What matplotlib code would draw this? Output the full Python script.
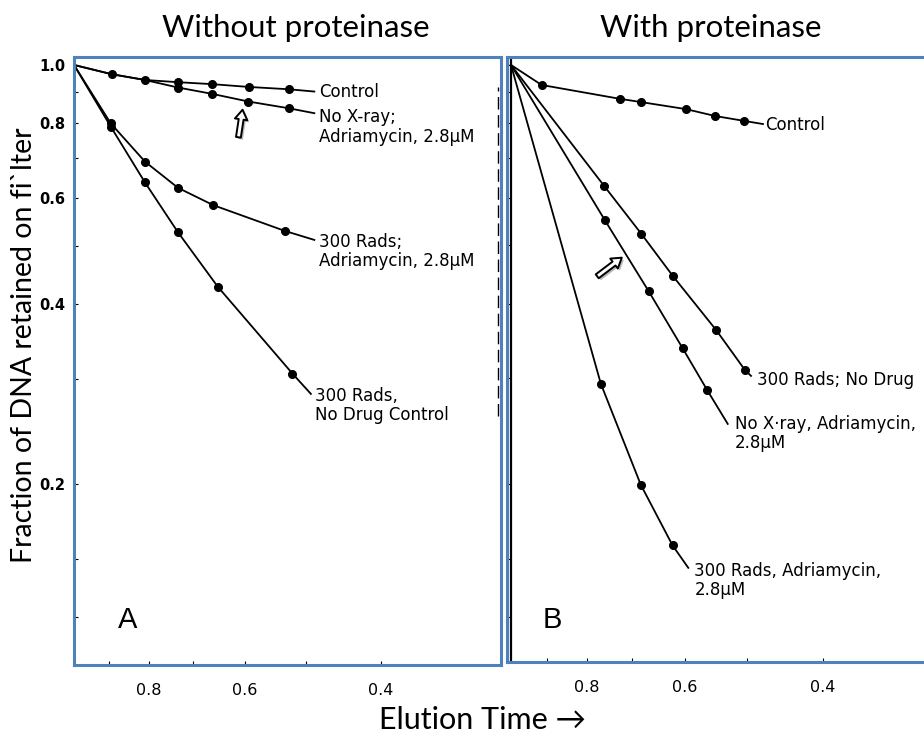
import numpy as np
from matplotlib import pyplot as plt
from matplotlib import patheffects as pe
from matplotlib.ticker import FixedLocator, NullFormatter

# ---------------------------------------------
# Data (x = fraction of internal standard retained)
# ---------------------------------------------
# Panel A - without proteinase
a_control_x = [1.0, 0.893, 0.809, 0.733, 0.662, 0.593, 0.527, 0.488]
a_control_y = [1.0, 0.965, 0.944, 0.936, 0.929, 0.919, 0.911, 0.903]

a_noxray_x = [1.0, 0.893, 0.809, 0.733, 0.662, 0.594, 0.527, 0.488]
a_noxray_y = [1.0, 0.965, 0.944, 0.917, 0.895, 0.869, 0.847, 0.831]

a_rads_adr_x = [1.0, 0.896, 0.809, 0.733, 0.660, 0.533, 0.488]
a_rads_adr_y = [1.0, 0.799, 0.690, 0.624, 0.584, 0.529, 0.511]

a_rads_x = [1.0, 0.896, 0.809, 0.733, 0.651, 0.521, 0.493]
a_rads_y = [1.0, 0.789, 0.637, 0.526, 0.427, 0.306, 0.283]

# Panel B - with proteinase
b_control_x = [1.0, 0.914, 0.726, 0.682, 0.598, 0.549, 0.505, 0.477]
b_control_y = [1.0, 0.926, 0.878, 0.867, 0.844, 0.822, 0.807, 0.797]

b_rads_x = [1.0, 0.761, 0.682, 0.621, 0.547, 0.503, 0.494]
b_rads_y = [1.0, 0.629, 0.523, 0.444, 0.361, 0.310, 0.303]

b_noxray_x = [1.0, 0.759, 0.667, 0.604, 0.562, 0.529]
b_noxray_y = [1.0, 0.551, 0.419, 0.337, 0.287, 0.252]

b_rads_adr_x = [1.0, 0.768, 0.683, 0.622, 0.594]
b_rads_adr_y = [1.0, 0.294, 0.1995, 0.158, 0.145]

x_ticks = [0.8, 0.6, 0.4]
x_ticklabels = ["0.8", "0.6", "0.4"]
y_ticks = [1.0, 0.8, 0.6, 0.4, 0.2]
y_ticklabels = ["1.0", "0.8", "0.6", "0.4", "0.2"]

W, H = 924, 736
BLUE = "#4F81BD"
SCAN_FONT = "DejaVu Sans"
SLIDE_FONT = "Lato"
PT = 0.72  # points per pixel at dpi 100


def fx(px):
    return px / W


def fy(py):
    return 1 - py / H


fig = plt.figure(figsize=(W / 100, H / 100), dpi=100)

ax_a = fig.add_axes([fx(74), fy(665), fx(501) - fx(74), fy(57) - fy(665)])
ax_b = fig.add_axes([fx(507), fy(662), fx(930) - fx(507), fy(57) - fy(662)])


# ---------------------------------------------
# Axes styling
# ---------------------------------------------
def style_axes(ax, xlim, ylim, show_ylabels):
    ax.set_xscale("log")
    ax.set_yscale("log")
    ax.set_xlim(*xlim)
    ax.set_ylim(*ylim)

    ax.xaxis.set_major_locator(FixedLocator(x_ticks))
    ax.xaxis.set_minor_locator(FixedLocator([0.9, 0.7, 0.5]))
    ax.set_xticklabels(x_ticklabels, fontsize=11.5, family=SCAN_FONT)
    ax.xaxis.set_minor_formatter(NullFormatter())

    ax.yaxis.set_major_locator(FixedLocator(y_ticks))
    ax.yaxis.set_minor_locator(FixedLocator([0.9, 0.7, 0.5, 0.3, 0.15, 0.12]))
    ax.yaxis.set_minor_formatter(NullFormatter())
    if show_ylabels:
        ax.set_yticklabels(y_ticklabels, fontsize=10.5, family=SCAN_FONT,
                           fontweight="bold")
    else:
        ax.set_yticklabels([])

    ax.tick_params(axis="both", which="both", direction="in", length=3,
                   width=0.8, color="black")
    ax.tick_params(axis="x", which="major", pad=13)
    ax.tick_params(axis="y", which="major", pad=6)

    for side in ax.spines.values():
        side.set_color(BLUE)
        side.set_linewidth(2.2)
        side.set_zorder(5)


style_axes(ax_a, (1.0, 0.2795), (0.1, 1.031), True)
style_axes(ax_b, (1.0118, 0.292), (0.101, 1.031), False)

# scanned frame lines of the original figure
ax_b.axvline(1.0, color="black", lw=1.6, zorder=4)
ax_a.plot([0.2821, 0.2821], [0.26, 0.92], color="black", lw=1.0,
          ls=(0, (9, 4)), zorder=4)

line_kw = dict(color="black", lw=1.3, marker="o", ms=5.5,
               markerfacecolor="black", markeredgecolor="black")

# ---------------------------------------------
# Panel A curves
# ---------------------------------------------
ax_a.plot(a_control_x, a_control_y, markevery=slice(1, -1), **line_kw)
ax_a.plot(a_noxray_x, a_noxray_y, markevery=slice(3, -1), **line_kw)
ax_a.plot(a_rads_adr_x, a_rads_adr_y, markevery=slice(1, -1), **line_kw)
ax_a.plot(a_rads_x, a_rads_y, markevery=slice(1, -1), **line_kw)

# ---------------------------------------------
# Panel B curves
# ---------------------------------------------
ax_b.plot(b_control_x, b_control_y, markevery=slice(1, -1), **line_kw)
ax_b.plot(b_rads_x, b_rads_y, markevery=slice(1, -1), **line_kw)
ax_b.plot(b_noxray_x, b_noxray_y, markevery=slice(1, -1), **line_kw)
ax_b.plot(b_rads_adr_x, b_rads_adr_y, markevery=slice(1, -1), **line_kw)


# ---------------------------------------------
# Curve labels (placed at the end of each curve, offsets in pixels)
# ---------------------------------------------
def label(ax, x, y, text, dx, dy):
    ax.annotate(text, xy=(x, y), xytext=(dx * PT, dy * PT),
                textcoords="offset points", ha="left", va="top",
                fontsize=12, family=SCAN_FONT, linespacing=1.1)


label(ax_a, a_control_x[-1], a_control_y[-1], "Control", 5, 9)
label(ax_a, a_noxray_x[-1], a_noxray_y[-1],
      "No X-ray;\nAdriamycin, 2.8\u00b5M", 5, 5)
label(ax_a, a_rads_adr_x[-1], a_rads_adr_y[-1],
      "300 Rads;\nAdriamycin, 2.8\u00b5M", 5, 7)
label(ax_a, a_rads_x[-1], a_rads_y[-1],
      "300 Rads,\nNo Drug Control", 4, 7)

label(ax_b, b_control_x[-1], b_control_y[-1], "Control", 2, 8)
label(ax_b, b_rads_x[-1], b_rads_y[-1], "300 Rads; No Drug", 6, 5)
label(ax_b, b_noxray_x[-1], b_noxray_y[-1],
      "No X\u00b7ray, Adriamycin,\n2.8\u00b5M", 7, 9)
label(ax_b, b_rads_adr_x[-1], b_rads_adr_y[-1],
      "300 Rads, Adriamycin,\n2.8\u00b5M", 6, 6)

# panel letters
fig.text(fx(128), fy(620), "A", fontsize=21, family="Liberation Sans",
         ha="center", va="center")
fig.text(fx(552), fy(620), "B", fontsize=21, family="Liberation Sans",
         ha="center", va="center")

# hollow arrows added on the slide
arrow_kw = dict(arrowstyle="simple,head_width=0.9,head_length=0.7,tail_width=0.35",
                fc="white", ec="black", lw=1.4,
                path_effects=[pe.SimplePatchShadow(offset=(1.5, -1.5), alpha=0.4),
                              pe.Normal()])
ax_a.annotate("", xy=(243, H - 107), xytext=(238, H - 140),
              xycoords="figure pixels", textcoords="figure pixels",
              arrowprops=arrow_kw)
ax_b.annotate("", xy=(624, H - 256), xytext=(595, H - 278),
              xycoords="figure pixels", textcoords="figure pixels",
              arrowprops=arrow_kw)

# ---------------------------------------------
# Slide titles and axis labels
# ---------------------------------------------
fig.text(fx(296), fy(28), "Without proteinase", fontsize=22.5,
         family=SLIDE_FONT, ha="center", va="center")
fig.text(fx(711), fy(28), "With proteinase", fontsize=22.5,
         family=SLIDE_FONT, ha="center", va="center")
fig.text(fx(24), fy(345), "Fraction of DNA retained on fi`lter", fontsize=20.5,
         family=SLIDE_FONT, rotation=90, ha="center", va="center")
fig.text(fx(482), fy(720), "Elution Time \u2192", fontsize=22,
         family=[SLIDE_FONT, "DejaVu Sans"], ha="center", va="center")

fig.savefig("out.png", dpi=100)
